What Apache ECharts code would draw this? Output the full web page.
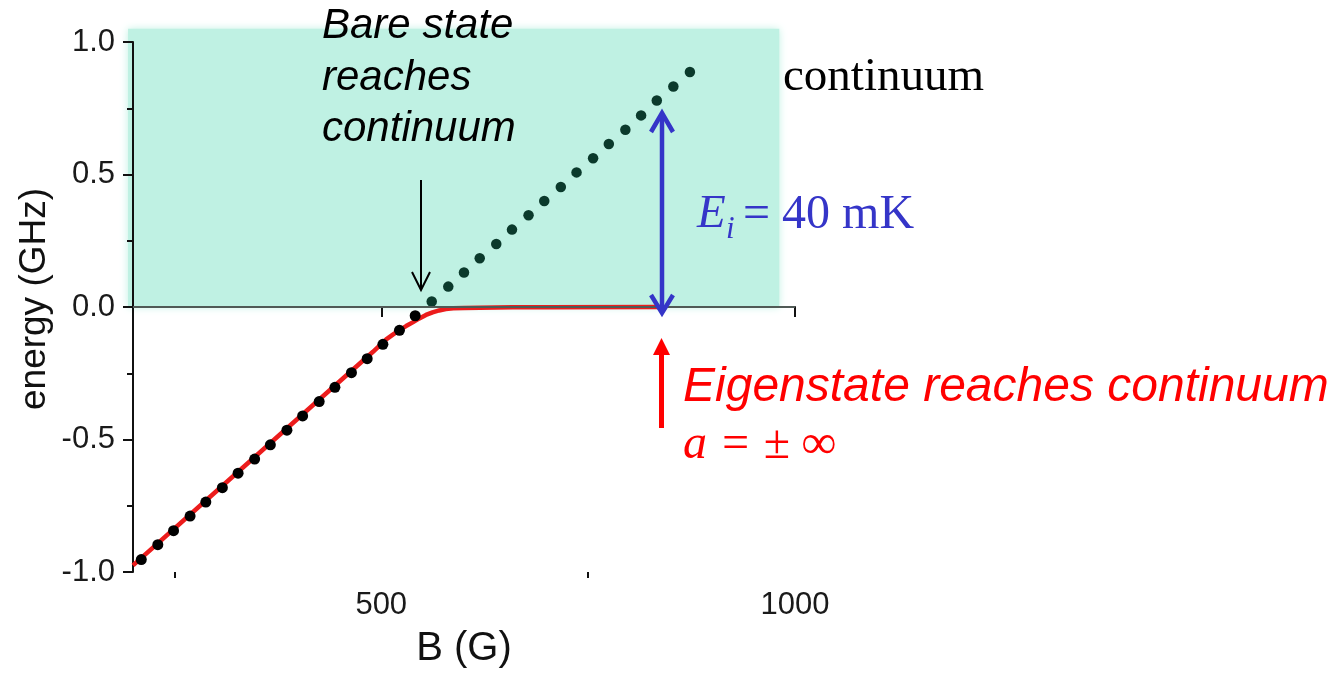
<!DOCTYPE html>
<html><head><meta charset="utf-8">
<script src="https://cdn.jsdelivr.net/npm/echarts@6/dist/echarts.min.js"></script>
<style>html,body{margin:0;padding:0;background:#fff}#c{width:1340px;height:674px}</style>
</head><body><div id="c"></div>
<script>
// ---- data ----
const xLabelValues = [500, 1000];
const xMinorTickValues = [250, 750];
const bareBelowB = [210,230,249,269,288,308,327,347,366,386,405,425,444,464,483,502,522,541];
const bareBelowE = [-0.953,-0.897,-0.844,-0.789,-0.736,-0.682,-0.627,-0.574,-0.520,-0.465,-0.411,-0.357,-0.303,-0.248,-0.195,-0.141,-0.088,-0.033];
const bareAboveB = [561,581,600,619,639,658,678,697,717,736,756,775,795,814,833,853,873];
const bareAboveE = [0.021,0.077,0.130,0.184,0.238,0.292,0.346,0.400,0.453,0.508,0.561,0.615,0.669,0.723,0.779,0.832,0.887];
const eigenB = [200,300,400,490,506,514,522,530,538,546,554,562,570,578,587,600,619,659,700,838];
const eigenE = [-0.975,-0.697,-0.419,-0.169,-0.122,-0.104,-0.087,-0.072,-0.058,-0.043,-0.030,-0.020,-0.013,-0.008,-0.005,-0.004,-0.003,-0.001,-0.0005,0];
const continuumB = [194, 981];   // shaded continuum region (B range)
const continuumE = [0, 1.05];     // shaded continuum region (energy range)

const zip = (a, b) => a.map((v, i) => [v, b[i]]);
const SANS = '"Liberation Sans", Arial, sans-serif';
const SERIF = '"Liberation Serif", "Times New Roman", serif';

const chart = echarts.init(document.getElementById('c'), null, {renderer: 'canvas'});
const option = {
  animation: false,
  backgroundColor: '#fff',
  grid: {left: 133, right: 545, top: 42, bottom: 100, containLabel: false},
  xAxis: [{
    type: 'value', min: 200, max: 1000, position: 'bottom',
    name: 'B (G)', nameLocation: 'middle', nameGap: 57,
    nameTextStyle: {fontFamily: SANS, fontSize: 40, color: '#111'},
    axisLine: {show: true, lineStyle: {color: '#111', width: 2}},
    axisTick: {show: true, length: 10, customValues: xLabelValues, lineStyle: {color: '#111', width: 2}},
    axisLabel: {show: true, customValues: xLabelValues, margin: 18, fontFamily: SANS, fontSize: 31, color: '#1a1a1a', formatter: v => String(v)},
    splitLine: {show: false}
  }, {
    type: 'value', min: 200, max: 1000, position: 'bottom', offset: 0,
    axisLine: {show: false},
    axisTick: {show: true, length: 6, customValues: xMinorTickValues, lineStyle: {color: '#111', width: 2}},
    axisLabel: {show: false},
    splitLine: {show: false}
  }],
  yAxis: {
    type: 'value', min: -1, max: 1, interval: 0.5,
    name: 'energy (GHz)', nameLocation: 'middle', nameGap: 80,
    nameTextStyle: {fontFamily: SANS, fontSize: 37, color: '#111', padding: [0, 0, 0, 16]},
    axisLine: {show: true, lineStyle: {color: '#111', width: 2}},
    axisTick: {show: true, length: 10, lineStyle: {color: '#111', width: 2}},
    minorTick: {show: true, splitNumber: 2, length: 6, lineStyle: {color: '#111', width: 2}},
    axisLabel: {margin: 18, fontFamily: SANS, fontSize: 31, color: '#1a1a1a', formatter: v => v.toFixed(1)},
    splitLine: {show: false}
  },
  series: [{
    name: 'eigenstate', type: 'line', data: zip(eigenB, eigenE),
    smooth: false, showSymbol: false, symbol: 'none',
    lineStyle: {color: '#ec1c1c', width: 4.5, join: 'round'}, z: 3,
    markLine: {
      silent: true, symbol: 'none', label: {show: false},
      lineStyle: {color: '#505a56', width: 2, type: 'solid'},
      data: [{yAxis: 0}]
    }
  }, {
    name: 'bare below', type: 'scatter', data: zip(bareBelowB, bareBelowE),
    symbolSize: 11, itemStyle: {color: '#000', opacity: 1}, z: 4
  }, {
    name: 'bare above', type: 'scatter', data: zip(bareAboveB, bareAboveE),
    symbolSize: 10.5, itemStyle: {color: '#0b3a2c', opacity: 1}, z: 4
  }]
};
chart.setOption(option);

const p0 = chart.convertToPixel({gridIndex: 0}, [continuumB[0], continuumE[1]]);
const p1 = chart.convertToPixel({gridIndex: 0}, [continuumB[1], continuumE[0]]);
const teal = '#bff1e3';

function txt(text, x, y, font, fill) {
  return {type: 'text', z: 100, silent: true, style: {text, x, y, font, fill, textAlign: 'left', textVerticalAlign: 'middle'}};
}
const blue = '#3535c8';
const red = '#ff0000';
chart.setOption({
  graphic: [
    {type: 'rect', z: -10, silent: true,
     shape: {x: p0[0], y: p0[1], width: p1[0] - p0[0], height: p1[1] - p0[1]},
     style: {fill: teal, shadowBlur: 8, shadowColor: teal}},
    // black arrow
    {type: 'line', z: 100, shape: {x1: 421, y1: 180, x2: 421, y2: 289}, style: {stroke: '#000', lineWidth: 2}},
    {type: 'polyline', z: 100, shape: {points: [[412, 272], [421, 290], [430, 272]]}, style: {stroke: '#000', lineWidth: 2, fill: null}},
    // blue double arrow
    {type: 'line', z: 100, shape: {x1: 662, y1: 114, x2: 662, y2: 311}, style: {stroke: blue, lineWidth: 4.5}},
    {type: 'polyline', z: 100, shape: {points: [[651, 132], [662, 113], [673, 132]]}, style: {stroke: blue, lineWidth: 4.5, fill: null, lineJoin: 'miter'}},
    {type: 'polyline', z: 100, shape: {points: [[651, 295], [662, 313], [673, 295]]}, style: {stroke: blue, lineWidth: 4.5, fill: null, lineJoin: 'miter'}},
    // red arrow
    {type: 'line', z: 100, shape: {x1: 661.5, y1: 428, x2: 661.5, y2: 352}, style: {stroke: red, lineWidth: 5}},
    {type: 'polygon', z: 100, shape: {points: [[653, 355], [661.5, 338], [670, 355]]}, style: {fill: red}},
    // texts
    txt('Bare state', 322, 26, 'italic 42px ' + SANS, '#000'),
    txt('reaches', 322, 78, 'italic 42px ' + SANS, '#000'),
    txt('continuum', 322, 129, 'italic 42px ' + SANS, '#000'),
    txt('continuum', 783, 78, '47px ' + SERIF, '#000'),
    txt('E', 697, 215, 'italic 47px ' + SERIF, blue),
    txt('i', 726, 230, 'italic 31px ' + SERIF, blue),
    txt('= 40 mK', 743, 215, '48px ' + SERIF, blue),
    txt('Eigenstate reaches continuum', 683, 388, 'italic 48px ' + SANS, red),
    txt('a = \u00b1 \u221e', 683, 445, 'italic 48px ' + SERIF, red)
  ]
});
</script>
</body></html>
